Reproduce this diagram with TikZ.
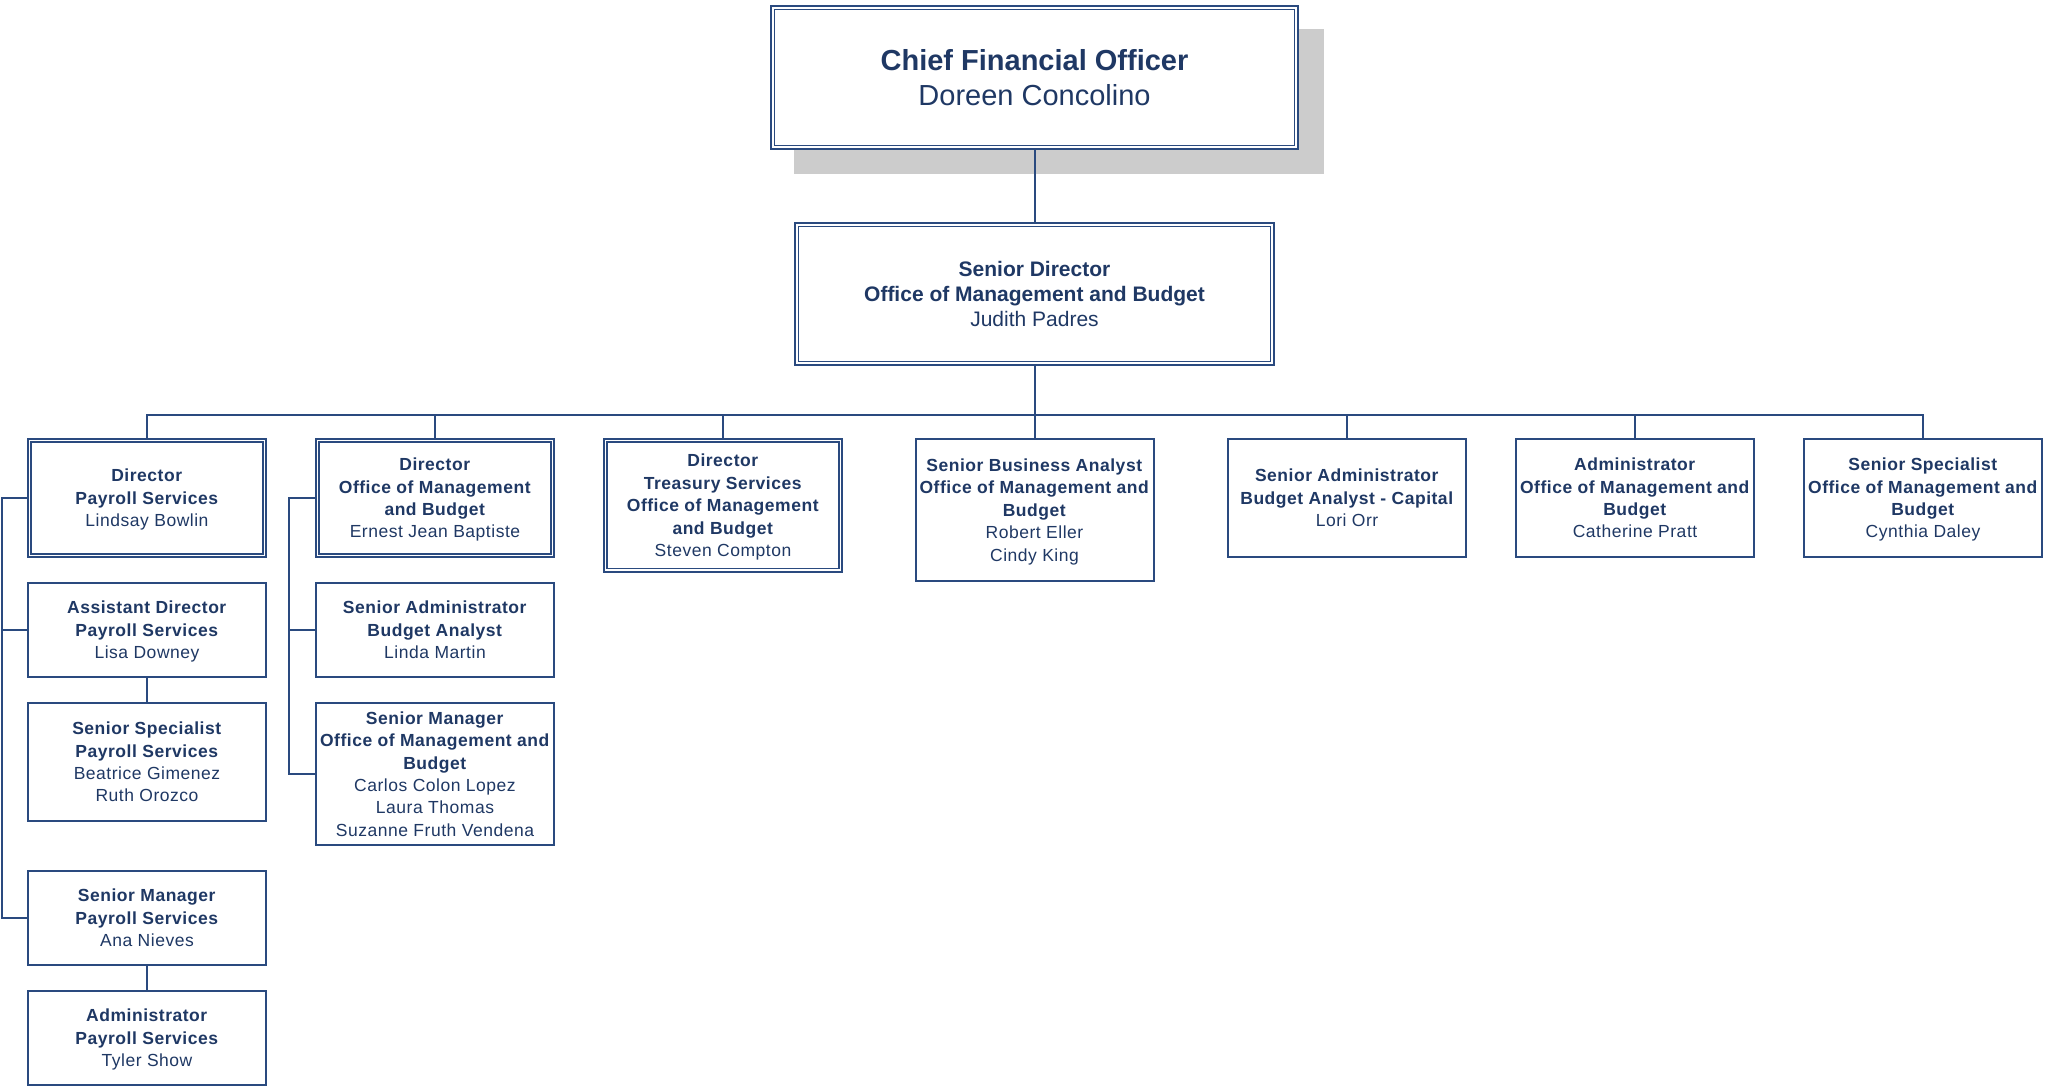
\documentclass[tikz,border=0pt]{standalone}
\usepackage{fontspec}
\setmainfont{Liberation Sans}
\newfontfamily\boxfont[LetterSpace=3]{Liberation Sans}
\usetikzlibrary{calc}
\definecolor{linecol}{HTML}{2A4A7F}
\definecolor{txtcol}{HTML}{1F3864}
\definecolor{shadowcol}{HTML}{CCCCCC}
\begin{document}
\begin{tikzpicture}[x=1pt,y=-1pt,
  box/.style={draw=linecol, line width=2pt, fill=white, inner sep=0pt, align=center, text=txtcol,
    font=\boxfont\fontsize{17.5}{22.4}\selectfont, minimum width=238pt, minimum height=94pt, text depth=0pt},
  tall/.style={minimum height=118pt},
  conn/.style={draw=linecol, line width=2pt},
  innerline/.style={draw=linecol, line width=1.3pt},
]
\useasboundingbox (0,0) rectangle (2049,1086);
% shadow of the top box
\fill[shadowcol] (794,29) rectangle (1324,174);

% top boxes
\node[box, minimum width=527pt, minimum height=143pt, font=\fontsize{29}{34.3}\selectfont] (cfo) at (1034.5,77.5)
  {\textbf{Chief Financial Officer}\\Doreen Concolino};
\node[box, minimum width=479pt, minimum height=142pt, font=\fontsize{21}{25.2}\selectfont] (sd) at (1034.5,294)
  {\textbf{Senior Director}\\\textbf{Office of Management and Budget}\\Judith Padres};

% first row
\node[box, tall] (dp) at (147,498) {\textbf{Director}\\\textbf{Payroll Services}\\Lindsay Bowlin};
\node[box, tall] (do) at (435,498) {\textbf{Director}\\\textbf{Office of Management}\\\textbf{and Budget}\\Ernest Jean Baptiste};
\node[box, minimum height=132.7pt] (dt) at (723,505.3) {\textbf{Director}\\\textbf{Treasury Services}\\\textbf{Office of Management}\\\textbf{and Budget}\\Steven Compton};
\node[box, minimum height=142pt] (sba) at (1034.5,510) {\textbf{Senior Business Analyst}\\\textbf{Office of Management and}\\\textbf{Budget}\\Robert Eller\\Cindy King};
\node[box, tall] (sac) at (1347,498) {\textbf{Senior Administrator}\\\textbf{Budget Analyst - Capital}\\Lori Orr};
\node[box, tall] (adm) at (1635,498) {\textbf{Administrator}\\\textbf{Office of Management and}\\\textbf{Budget}\\Catherine Pratt};
\node[box, tall] (ssp) at (1923,498) {\textbf{Senior Specialist}\\\textbf{Office of Management and}\\\textbf{Budget}\\Cynthia Daley};

% payroll column
\node[box] (ad) at (147,630) {\textbf{Assistant Director}\\\textbf{Payroll Services}\\Lisa Downey};
\node[box, tall] (ssps) at (147,762) {\textbf{Senior Specialist}\\\textbf{Payroll Services}\\Beatrice Gimenez\\Ruth Orozco};
\node[box] (smp) at (147,918) {\textbf{Senior Manager}\\\textbf{Payroll Services}\\Ana Nieves};
\node[box] (admp) at (147,1038) {\textbf{Administrator}\\\textbf{Payroll Services}\\Tyler Show};

% OMB column
\node[box] (sab) at (435,630) {\textbf{Senior Administrator}\\\textbf{Budget Analyst}\\Linda Martin};
\node[box, minimum height=142pt] (smo) at (435,774) {\textbf{Senior Manager}\\\textbf{Office of Management and}\\\textbf{Budget}\\Carlos Colon Lopez\\Laura Thomas\\Suzanne Fruth Vendena};

% inner borders of the double boxes
\foreach \n in {cfo,sd}
  \draw[innerline] ($(\n.north west)+(4.5,4.5)$) rectangle ($(\n.south east)+(-4.5,-4.5)$);
\foreach \n in {dp,do,dt}
  \draw[innerline] ($(\n.north west)+(4,4)$) rectangle ($(\n.south east)+(-4,-4)$);

% connectors
\coordinate (bus) at (0,415);
\coordinate (lx) at (1.5,0);
\coordinate (mx) at (289,0);
\draw[conn] (cfo.south) -- (sd.north);
\draw[conn] (sd.south) -- (sba.north);
\draw[conn] (dp.north) -- (dp.north |- bus) -- (ssp.north |- bus) -- (ssp.north);
\foreach \n in {do,dt,sac,adm}
  \draw[conn] (\n.north) -- (\n.north |- bus);
\draw[conn] (dp.west) -- (dp.west -| lx) -- (smp.west -| lx) -- (smp.west);
\draw[conn] (ad.west) -- (ad.west -| lx);
\draw[conn] (do.west) -- (do.west -| mx) -- (smo.west -| mx) -- (smo.west);
\draw[conn] (sab.west) -- (sab.west -| mx);
\draw[conn] (ad.south) -- (ssps.north);
\draw[conn] (smp.south) -- (admp.north);
\end{tikzpicture}
\end{document}
